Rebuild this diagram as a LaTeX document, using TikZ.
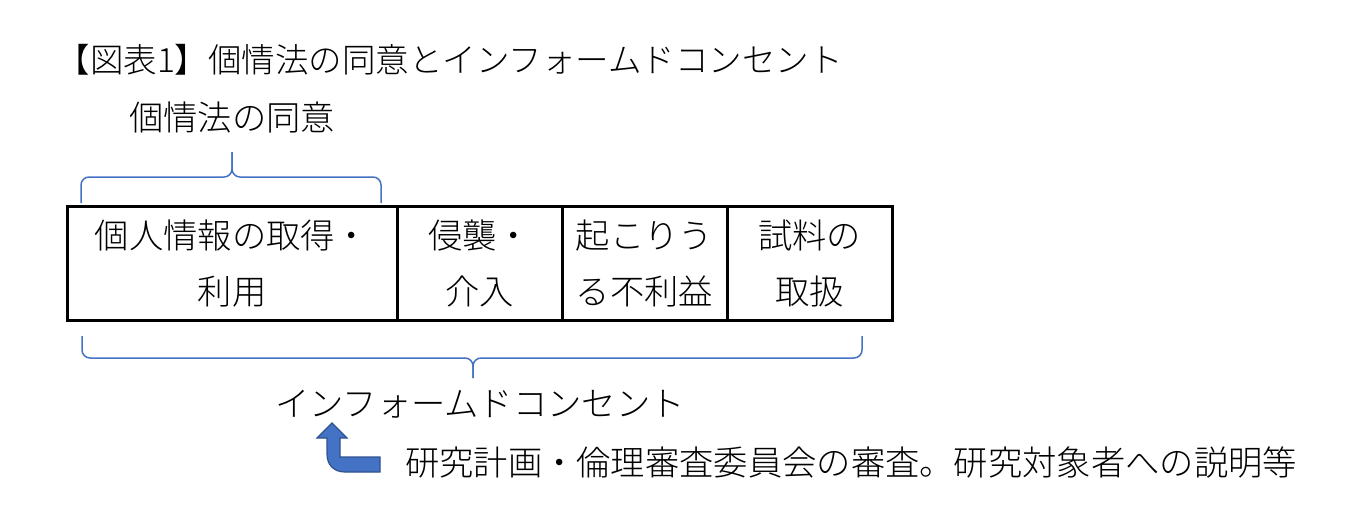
\documentclass[tikz,border=0pt]{standalone}
\usepackage{fontspec}
\setmainfont{Noto Sans CJK JP Light}
\usetikzlibrary{positioning}
\definecolor{braceblue}{HTML}{4472C4}
\definecolor{arrowline}{HTML}{2F528F}

\begin{document}
\begin{tikzpicture}[x=1pt,y=-1pt,font=\fontsize{34.3}{56}\selectfont,
    cell/.style={draw,line width=3pt,outer sep=0pt,inner sep=0pt,minimum height=114pt,align=center},
    brace/.style={draw=braceblue,line width=1.5pt,rounded corners=8pt}]
    \useasboundingbox (0,0) rectangle (1367,524);

    \node[anchor=west,font=\fontsize{33.5}{40}\selectfont] (title) at (53,60) {【図表1】個情法の同意とインフォームドコンセント};

    \node[cell,minimum width=330pt] (a) at (232,263.5) {個人情報の取得・\\利用};
    \node[cell,minimum width=165pt] (b) [right=0pt of a] {侵襲・\\介入};
    \node[cell,minimum width=165pt] (c) [right=0pt of b] {起こりう\\る不利益};
    \node[cell,minimum width=165pt] (d) [right=0pt of c] {試料の\\取扱};

    % braces
    \draw[brace] (81,203) |- (232,177) -- (232,152);
    \draw[brace] (381,203) |- (232,177) -- (232,152);
    \draw[brace] (82,336) |- (473,358) -- (473,378);
    \draw[brace] (862,336) |- (473,358) -- (473,378);

    \node (pi) at (232,118) {個情法の同意};
    \node (ic) at (480,404) {インフォームドコンセント};
    \node (rev) at (851,463) {研究計画・倫理審査委員会の審査。研究対象者への説明等};

    % bent arrow
    \filldraw[fill=braceblue,draw=arrowline,line width=1.2pt]
        (332,423) -- (347,438) -- (340,438) -- (340,457) -- (380,457) -- (380,472)
        -- (345,472) .. controls (334,472) and (327,465) .. (327,454) -- (327,438) -- (317,438) -- cycle;
\end{tikzpicture}
\end{document}
